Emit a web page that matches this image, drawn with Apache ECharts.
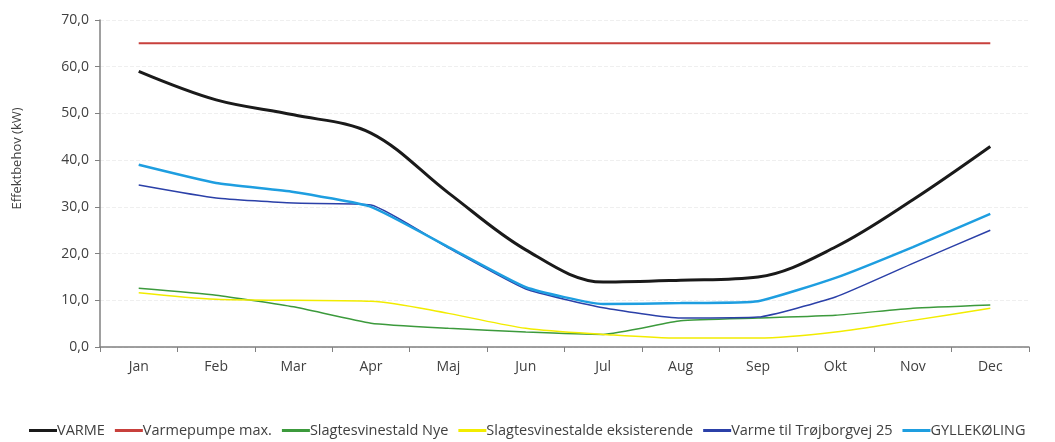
<!DOCTYPE html>
<html>
<head>
<meta charset="utf-8">
<script src="https://cdn.jsdelivr.net/npm/echarts@6/dist/echarts.min.js"></script>
<style>
  html, body { margin: 0; padding: 0; background: #fff; }
  #chart { width: 1055px; height: 442px; }
</style>
</head>
<body>
<div id="chart"></div>
<script>
// Monthly power demand (kW) per consumer
const months = ['Jan', 'Feb', 'Mar', 'Apr', 'Maj', 'Jun', 'Jul', 'Aug', 'Sep', 'Okt', 'Nov', 'Dec'];
const varme = [59.0, 52.9, 49.7, 45.8, 33.0, 20.8, 13.9, 14.3, 15.0, 21.4, 31.5, 42.9];
const varmepumpeMax = [65.0, 65.0, 65.0, 65.0, 65.0, 65.0, 65.0, 65.0, 65.0, 65.0, 65.0, 65.0];
const slagtesvinestaldNye = [12.6, 11.1, 8.6, 5.1, 4.0, 3.2, 2.7, 5.6, 6.2, 6.8, 8.3, 9.0];
const slagtesvinestaldeEksisterende = [11.6, 10.2, 10.0, 9.8, 7.2, 4.0, 2.7, 1.9, 1.9, 3.2, 5.7, 8.3];
const varmeTrojborgvej = [34.7, 31.9, 30.8, 30.4, 21.2, 12.4, 8.4, 6.2, 6.4, 10.7, 17.9, 25.0];
const gyllekoling = [39.0, 35.1, 33.2, 30.0, 21.4, 12.8, 9.2, 9.4, 9.8, 14.8, 21.4, 28.5];
const yTicks = { min: 0, max: 70, interval: 10 };

const font = 'Open Sans, Liberation Sans, sans-serif';
const txt = '#404040';

function line(name, data, color, width, smooth) {
  return {
    name, type: 'line', data, smooth,
    symbol: 'none',
    lineStyle: { color, width },
    itemStyle: { color }
  };
}

const chart = echarts.init(document.getElementById('chart'));
chart.setOption({
  animation: false,
  backgroundColor: '#fff',
  grid: { left: 100, right: 26, top: 20, bottom: 95 },
  legend: {
    bottom: -1,
    left: 24,
    itemWidth: 28,
    itemHeight: 3,
    itemGap: 10,
    icon: 'rect',
    textStyle: { fontFamily: font, fontSize: 14.5, color: txt, padding: [0, 0, 0, -5] },
    data: ['VARME', 'Varmepumpe max.', 'Slagtesvinestald Nye', 'Slagtesvinestalde eksisterende', 'Varme til Trøjborgvej 25', 'GYLLEKØLING']
  },
  xAxis: {
    type: 'category',
    data: months,
    boundaryGap: true,
    axisLine: { lineStyle: { color: '#808080', width: 1.5 } },
    axisTick: { show: true, length: 5, lineStyle: { color: '#808080' } },
    axisLabel: { fontFamily: font, fontSize: 14, color: txt, margin: 13 }
  },
  yAxis: {
    type: 'value',
    min: yTicks.min, max: yTicks.max, interval: yTicks.interval,
    name: 'Effektbehov (kW)',
    nameLocation: 'middle',
    nameGap: 76,
    nameTextStyle: { fontFamily: font, fontSize: 13, color: txt, padding: [0, 0, 0, 50] },
    axisLine: { show: true, lineStyle: { color: '#808080', width: 1.5 } },
    axisTick: { show: true, length: 5, inside: false, lineStyle: { color: '#808080' } },
    splitLine: { show: true, lineStyle: { color: '#efefef', type: 'dashed' } },
    axisLabel: {
      fontFamily: font, fontSize: 14, color: txt, margin: 11,
      formatter: v => v.toFixed(1).replace('.', ',')
    }
  },
  series: [
    line('VARME', varme, '#1a1a1a', 3, 0.35),
    line('Varmepumpe max.', varmepumpeMax, '#c8403c', 2, false),
    line('Slagtesvinestald Nye', slagtesvinestaldNye, '#3c9a3c', 1.5, 0.15),
    line('Slagtesvinestalde eksisterende', slagtesvinestaldeEksisterende, '#f2ec00', 1.5, 0.3),
    line('Varme til Trøjborgvej 25', varmeTrojborgvej, '#2b40a8', 1.5, 0.15),
    line('GYLLEKØLING', gyllekoling, '#1e9ee0', 2.5, 0.15)
  ]
});
</script>
</body>
</html>
